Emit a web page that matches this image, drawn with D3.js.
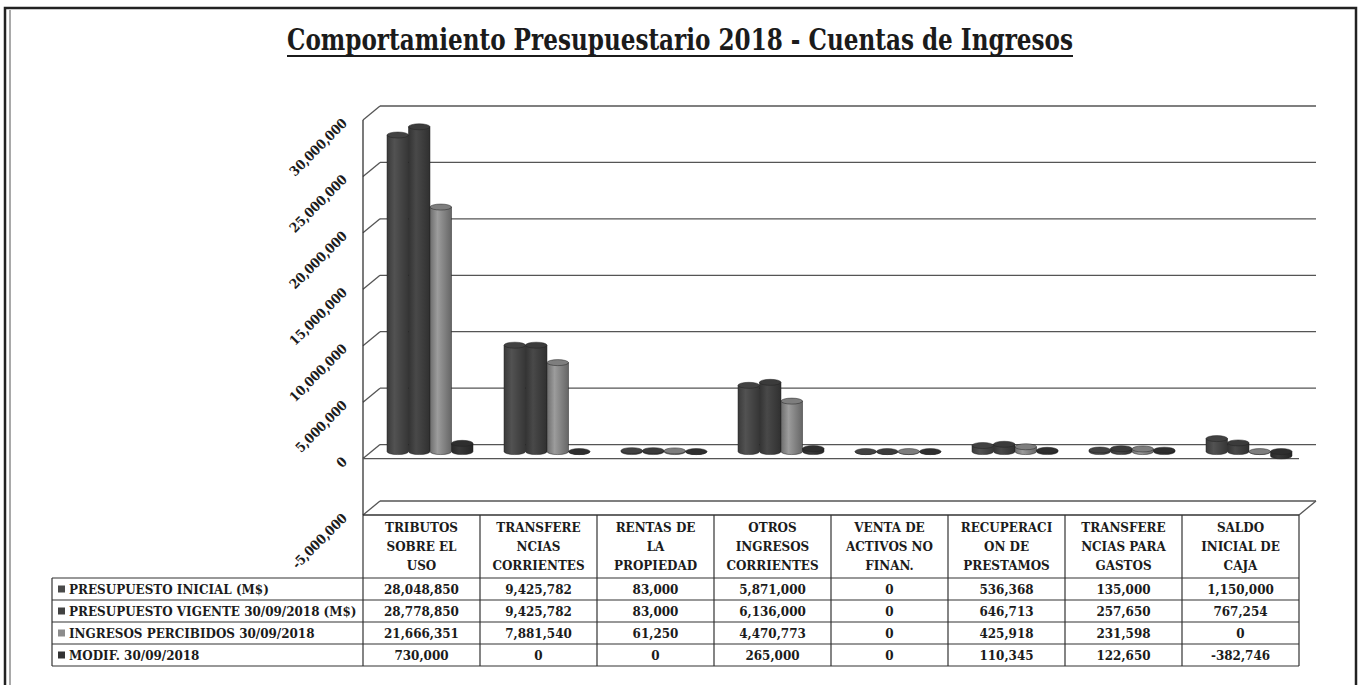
<!DOCTYPE html>
<html>
<head>
<meta charset="utf-8">
<script src="https://cdn.jsdelivr.net/npm/d3@7"></script>
<style>
  body { margin: 0; background: #fff; }
  text { font-family: "DejaVu Serif Condensed", "DejaVu Serif", serif; font-weight: bold; fill: #1b1b1b; }
</style>
</head>
<body>
<script>
const Width = 1361;
const Height = 685;

// --- data -------------------------------------------------------------
const categories = [
  ["TRIBUTOS", "SOBRE EL", "USO"],
  ["TRANSFERE", "NCIAS", "CORRIENTES"],
  ["RENTAS DE", "LA", "PROPIEDAD"],
  ["OTROS", "INGRESOS", "CORRIENTES"],
  ["VENTA DE", "ACTIVOS NO", "FINAN."],
  ["RECUPERACI", "ON DE", "PRESTAMOS"],
  ["TRANSFERE", "NCIAS PARA", "GASTOS"],
  ["SALDO", "INICIAL DE", "CAJA"]
];

const seriesNames = [
  "PRESUPUESTO INICIAL (M$)",
  "PRESUPUESTO VIGENTE 30/09/2018 (M$)",
  "INGRESOS PERCIBIDOS 30/09/2018",
  "MODIF. 30/09/2018"
];

const presupuestoInicial = [28048850, 9425782, 83000, 5871000, 0, 536368, 135000, 1150000];
const presupuestoVigente = [28778850, 9425782, 83000, 6136000, 0, 646713, 257650, 767254];
const ingresosPercibidos = [21666351, 7881540, 61250, 4470773, 0, 425918, 231598, 0];
const modificaciones     = [730000, 0, 0, 265000, 0, 110345, 122650, -382746];

const yTicks = [-5000000, 0, 5000000, 10000000, 15000000, 20000000, 25000000, 30000000];

const seriesColors = ["#4a4a4a", "#424242", "#8c8c8c", "#333333"];

const seriesValues = [presupuestoInicial, presupuestoVigente, ingresosPercibidos, modificaciones];

// --- layout -----------------------------------------------------------
const plot = { left: 363, right: 1299, dx: 17, dy: -14 };
const tableTop = 515, headerH = 63, rowH = 22, labelLeft = 52;
const fontSize = '13.3px';

const fmt = d3.formatLocale({ decimal: ".", thousands: ",", grouping: [3], currency: ["", ""], minus: "-" }).format(",");

const svg = d3.select('body')
  .append('svg')
    .attr('width', Width)
    .attr('height', Height);

// frame
svg.append('rect')
  .attr('x', 5).attr('y', 8)
  .attr('width', 1351).attr('height', 700)
  .attr('fill', 'none').attr('stroke', '#222').attr('stroke-width', 2.5);
svg.append('line')
  .attr('x1', 10).attr('x2', 10).attr('y1', 10).attr('y2', Height)
  .attr('stroke', '#555').attr('stroke-width', 1);

// title
svg.append('text')
  .attr('x', 287).attr('y', 50)
  .attr('textLength', 786)
  .attr('lengthAdjust', 'spacingAndGlyphs')
  .style('font-size', '29px')
  .text("Comportamiento Presupuestario 2018 - Cuentas de Ingresos");
svg.append('line')
  .attr('x1', 287).attr('x2', 1073)
  .attr('y1', 56).attr('y2', 56)
  .attr('stroke', '#1b1b1b').attr('stroke-width', 1.8);

// scales
const yBack = d3.scaleLinear().domain([-5000000, 30000000]).range([501, 106]);
const yFront = v => yBack(v) - plot.dy;
const yMid = v => yBack(v) - plot.dy / 2;

const x = d3.scaleBand().domain(d3.range(categories.length)).range([plot.left, plot.right]);
const groupW = x.bandwidth() * 0.735;
const xInner = d3.scaleBand().domain(d3.range(seriesNames.length)).range([0, groupW]);

const g = svg.append('g');

// back wall gridlines + left wall ticks
g.selectAll('.grid')
  .data(yTicks)
  .join('line')
    .attr('class', 'grid')
    .attr('x1', plot.left + plot.dx).attr('x2', plot.right + plot.dx)
    .attr('y1', d => yBack(d)).attr('y2', d => yBack(d))
    .attr('stroke', '#555').attr('stroke-width', 1.3);

g.selectAll('.wall')
  .data(yTicks)
  .join('line')
    .attr('class', 'wall')
    .attr('x1', plot.left).attr('x2', plot.left + plot.dx)
    .attr('y1', d => yFront(d)).attr('y2', d => yBack(d))
    .attr('stroke', '#555').attr('stroke-width', 1.3);

g.append('line')
  .attr('x1', plot.left).attr('x2', plot.left)
  .attr('y1', yFront(30000000)).attr('y2', yFront(-5000000))
  .attr('stroke', '#333').attr('stroke-width', 1.3);

// zero plane front edge
g.append('line')
  .attr('x1', plot.left).attr('x2', plot.right)
  .attr('y1', yFront(0)).attr('y2', yFront(0))
  .attr('stroke', '#555').attr('stroke-width', 1.3);

// floor right edge
g.append('line')
  .attr('x1', plot.right).attr('x2', plot.right + plot.dx)
  .attr('y1', yFront(-5000000)).attr('y2', yBack(-5000000))
  .attr('stroke', '#555').attr('stroke-width', 1.3);

// y labels
svg.selectAll('.ylab')
  .data(yTicks)
  .join('text')
    .attr('class', 'ylab')
    .attr('text-anchor', 'end')
    .style('font-size', fontSize)
    .attr('transform', d => `translate(348, ${yFront(d) + 4}) rotate(-45)`)
    .text(d => fmt(d));

// gradients for cylinders
const defs = svg.append('defs');
seriesColors.forEach((c, i) => {
  const grad = defs.append('linearGradient')
    .attr('id', 'cyl' + i)
    .attr('x1', '0%').attr('x2', '100%').attr('y1', '0%').attr('y2', '0%');
  grad.append('stop').attr('offset', '0%').attr('stop-color', d3.color(c).darker(0.7));
  grad.append('stop').attr('offset', '35%').attr('stop-color', d3.color(c).brighter(0.3));
  grad.append('stop').attr('offset', '100%').attr('stop-color', d3.color(c).darker(0.9));
});

// bars (cylinders)
const ry = 3;
const barData = [];
categories.forEach((cat, i) => {
  seriesValues.forEach((vals, j) => {
    barData.push({ i, j, v: vals[i] });
  });
});

const barX = d => x(d.i) + (x.bandwidth() - groupW) / 2 + plot.dx / 2 + xInner(d.j);

const bars = g.selectAll('.bar')
  .data(barData)
  .join('g')
    .attr('class', 'bar');

bars.append('path')
  .attr('d', d => {
    const x0 = barX(d);
    const w = xInner.bandwidth();
    const top = yMid(Math.max(d.v, 0));
    const bot = yMid(Math.min(d.v, 0));
    return `M${x0},${top} L${x0},${bot} A${w / 2},${ry} 0 0 0 ${x0 + w},${bot} L${x0 + w},${top} Z`;
  })
  .attr('fill', d => `url(#cyl${d.j})`)
  .attr('stroke', '#222').attr('stroke-width', 0.5);

bars.append('ellipse')
  .attr('cx', d => barX(d) + xInner.bandwidth() / 2)
  .attr('cy', d => yMid(Math.max(d.v, 0)))
  .attr('rx', xInner.bandwidth() / 2)
  .attr('ry', ry)
  .attr('fill', d => d3.color(seriesColors[d.j]).darker(0.3))
  .attr('stroke', '#222').attr('stroke-width', 0.5);

// --- data table -------------------------------------------------------
const tbl = svg.append('g').attr('class', 'table');
const tableBottom = tableTop + headerH + rowH * seriesNames.length;

tbl.selectAll('.vline')
  .data(d3.range(categories.length + 1))
  .join('line')
    .attr('class', 'vline')
    .attr('x1', d => plot.left + d * x.bandwidth())
    .attr('x2', d => plot.left + d * x.bandwidth())
    .attr('y1', tableTop).attr('y2', tableBottom)
    .attr('stroke', '#333').attr('stroke-width', 1.2);

tbl.append('line')
  .attr('x1', plot.left).attr('x2', plot.right)
  .attr('y1', tableTop).attr('y2', tableTop)
  .attr('stroke', '#333').attr('stroke-width', 1.3);

tbl.selectAll('.hline')
  .data(d3.range(seriesNames.length + 1))
  .join('line')
    .attr('class', 'hline')
    .attr('x1', labelLeft).attr('x2', plot.right)
    .attr('y1', d => tableTop + headerH + d * rowH)
    .attr('y2', d => tableTop + headerH + d * rowH)
    .attr('stroke', '#333').attr('stroke-width', 1.2);

tbl.append('line')
  .attr('x1', labelLeft).attr('x2', labelLeft)
  .attr('y1', tableTop + headerH).attr('y2', tableBottom)
  .attr('stroke', '#333').attr('stroke-width', 1.2);

// category headers
categories.forEach((lines, i) => {
  tbl.append('text')
    .attr('text-anchor', 'middle')
    .style('font-size', fontSize)
    .selectAll('tspan')
    .data(lines)
    .join('tspan')
      .attr('x', x(i) + x.bandwidth() / 2)
      .attr('y', (d, k) => tableTop + 17 + k * 19)
      .text(d => d);
});

// row labels with legend keys, and values
seriesNames.forEach((name, j) => {
  const cy = tableTop + headerH + j * rowH + rowH / 2;
  tbl.append('rect')
    .attr('x', labelLeft + 6).attr('y', cy - 3.5)
    .attr('width', 7).attr('height', 7)
    .attr('fill', seriesColors[j]);
  tbl.append('text')
    .attr('x', labelLeft + 17).attr('y', cy + 5)
    .style('font-size', fontSize)
    .text(name);

  seriesValues[j].forEach((v, i) => {
    tbl.append('text')
      .attr('x', x(i) + x.bandwidth() / 2).attr('y', cy + 5)
      .attr('text-anchor', 'middle')
      .style('font-size', fontSize)
      .text(fmt(v));
  });
});
</script>
</body>
</html>
